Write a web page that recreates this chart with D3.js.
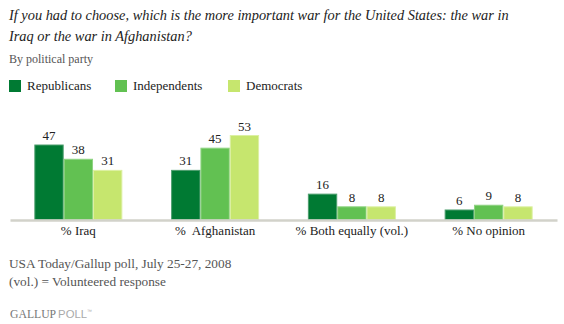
<!DOCTYPE html>
<html>
<head>
<meta charset="utf-8">
<script src="https://cdn.jsdelivr.net/npm/d3@7"></script>
<style>
  html, body { margin: 0; padding: 0; background: #fff; }
  svg { display: block; }
  text { font-family: "Liberation Serif", "DejaVu Serif", serif; white-space: pre; }
</style>
</head>
<body>
<svg id="chart" width="564" height="324"></svg>
<script>
// Survey answers and party breakdown
const categories = ["% Iraq", "%  Afghanistan", "% Both equally (vol.)", "% No opinion"];
const parties = ["Republicans", "Independents", "Democrats"];
const republicans = [47, 31, 16, 6];
const independents = [38, 45, 8, 9];
const democrats = [31, 53, 8, 8];
const partyColors = ["#007A33", "#62C152", "#C6E66E"];
const partyStrokes = ["#4d9e6e", "#8fd382", "#dcf0a3"];

const titleLines = [
  "If you had to choose, which is the more important war for the United States: the war in",
  "Iraq or the war in Afghanistan?"
];
const subtitle = "By political party";
const notes = ["USA Today/Gallup poll, July 25-27, 2008", "(vol.) = Volunteered response"];

const series = [republicans, independents, democrats];

const svg = d3.select("#chart");

// Title, sized so the first line spans the chart width
const title = svg.append("g").selectAll("text")
  .data(titleLines).join("text")
  .attr("x", 9).attr("y", (d, i) => 19.5 + i * 21)
  .attr("font-size", 14).attr("font-style", "italic").attr("fill", "#222")
  .text(d => d);
const titleWidth = title.node().getComputedTextLength();
const titleSize = Math.min(17, 14 * 500 / titleWidth);
title.attr("font-size", titleSize);

svg.append("text")
  .attr("x", 9).attr("y", 63)
  .attr("font-size", 12).attr("fill", "#555")
  .text(subtitle);

// Legend
const legendX = [9, 115, 228];
const legend = svg.append("g").selectAll("g")
  .data(parties).join("g")
  .attr("transform", (d, i) => `translate(${legendX[i]},80)`);
legend.append("rect")
  .attr("width", 12).attr("height", 12)
  .attr("fill", (d, i) => partyColors[i]);
legend.append("text")
  .attr("x", 18).attr("y", 9.5)
  .attr("font-size", 13).attr("fill", "#222")
  .text(d => d);

// Scales
const x0 = d3.scaleBand().domain(categories).range([10, 557]).paddingInner(0.3565).paddingOuter(0.178);
const x1 = d3.scaleBand().domain(parties).range([0, x0.bandwidth()]);
const y = d3.scaleLinear().domain([0, 53]).range([219, 135]);

const groups = svg.append("g").selectAll("g")
  .data(categories).join("g")
  .attr("transform", d => `translate(${x0(d)},0)`);

groups.selectAll("rect")
  .data((d, ci) => parties.map((p, pi) => ({ p, pi, v: series[pi][ci] })))
  .join("rect")
  .attr("x", d => x1(d.p) + 0.5)
  .attr("y", d => y(d.v) + 0.5)
  .attr("width", x1.bandwidth() - 1)
  .attr("height", d => y(0) - y(d.v))
  .attr("fill", d => partyColors[d.pi])
  .attr("stroke", d => partyStrokes[d.pi])
  .attr("stroke-width", 1);

groups.selectAll("text.val")
  .data((d, ci) => parties.map((p, pi) => ({ p, pi, v: series[pi][ci] })))
  .join("text")
  .attr("class", "val")
  .attr("x", d => x1(d.p) + x1.bandwidth() / 2)
  .attr("y", d => y(d.v) - 4.5)
  .attr("text-anchor", "middle")
  .attr("font-size", 13).attr("fill", "#222")
  .text(d => d.v);

// Baseline axis
const axis = svg.append("g").attr("transform", `translate(0,${y(0) + 1})`)
  .call(d3.axisBottom(x0).tickSize(0).tickPadding(6));
axis.select(".domain").attr("stroke", "#D2D2CA").attr("stroke-width", 2.5);
axis.selectAll("text")
  .attr("font-family", "Liberation Serif, DejaVu Serif, serif")
  .attr("font-size", 13).attr("fill", "#222");

// Footnotes
svg.append("g").selectAll("text")
  .data(notes).join("text")
  .attr("x", 9).attr("y", (d, i) => 268 + i * 17.5)
  .attr("font-size", 13.3).attr("fill", "#555")
  .text(d => d);

// Gallup Poll wordmark
const brand = svg.append("text").attr("x", 10).attr("y", 318);
brand.append("tspan").attr("fill", "#777").attr("font-family", "Liberation Serif, serif")
  .attr("font-size", 11.7).text("GALLUP");
brand.append("tspan").attr("dx", 2).attr("fill", "#aaa").attr("font-family", "Liberation Sans, Arial, sans-serif")
  .attr("font-size", 11.3).text("POLL");
brand.append("tspan").attr("fill", "#aaa").attr("font-family", "Liberation Sans, Arial, sans-serif")
  .attr("font-size", 5).attr("dy", -5).text("™");
</script>
</body>
</html>
